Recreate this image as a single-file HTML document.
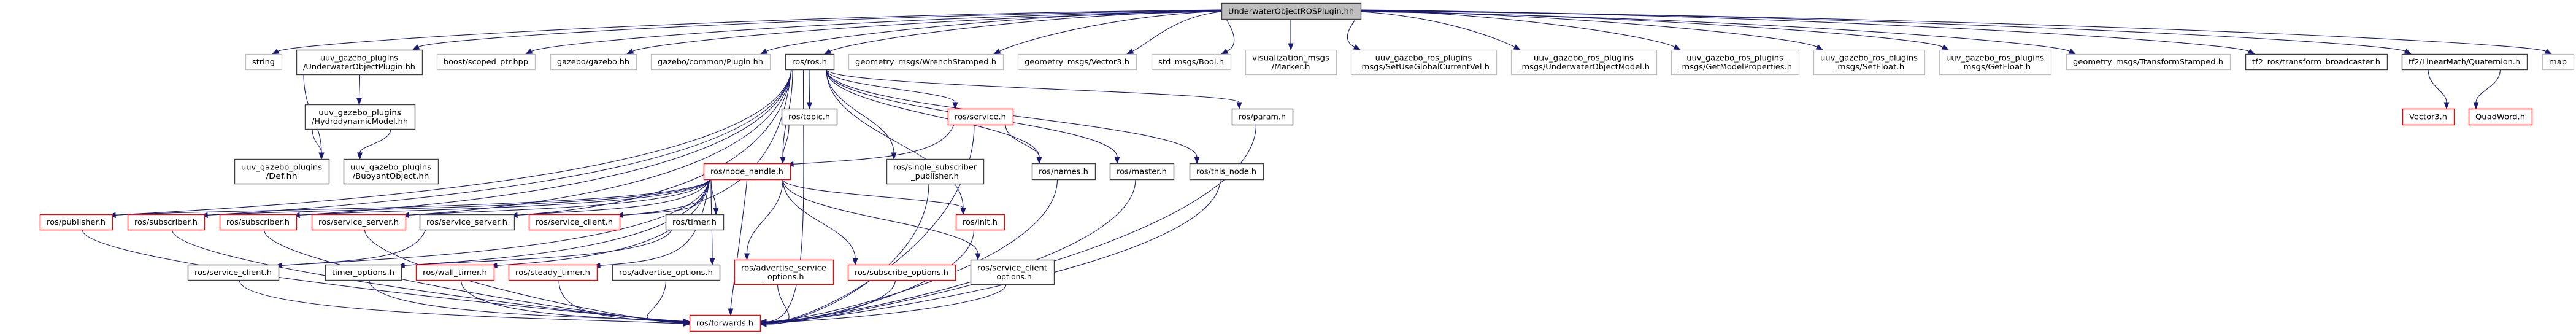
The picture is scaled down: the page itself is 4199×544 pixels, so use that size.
<!DOCTYPE html>
<html><head><meta charset="utf-8"><style>
html,body{margin:0;padding:0;background:#fff;width:4199px;height:544px;overflow:hidden}
svg text{font-family:"DejaVu Sans","Liberation Sans",sans-serif;font-size:12.5px;fill:#000;text-anchor:middle}
</style></head><body>
<svg id="g" xmlns="http://www.w3.org/2000/svg" width="4199" height="544" viewBox="0 0 4199 544">
<g id="edges" fill="none" stroke="#191970" stroke-width="1.1"></g>
<g id="heads" fill="#191970" stroke="#191970"></g>
<g id="nodes"></g>
</svg>
<script>
(function(){
var N={
root:[1991,2218,5,31,'root',['UnderwaterObjectROSPlugin.hh']],
string:[400,459,88,113,'g',['string']],
uop:[483,688,81,121,'b',['uuv_gazebo_plugins','/UnderwaterObjectPlugin.hh']],
boost:[712,872,88,113,'g',['boost/scoped_ptr.hpp']],
gazebo:[897,1037,88,113,'g',['gazebo/gazebo.hh']],
plugin:[1061,1255,88,113,'g',['gazebo/common/Plugin.hh']],
rosh:[1280,1359,88,113,'b',['ros/ros.h']],
wrench:[1383,1635,88,113,'g',['geometry_msgs/WrenchStamped.h']],
v3msg:[1659,1852,88,113,'g',['geometry_msgs/Vector3.h']],
bool:[1877,2006,88,113,'g',['std_msgs/Bool.h']],
marker:[2030,2178,81,121,'g',['visualization_msgs','/Marker.h']],
setuse:[2202,2439,81,121,'g',['uuv_gazebo_ros_plugins','_msgs/SetUseGlobalCurrentVel.h']],
uomodel:[2463,2700,81,121,'g',['uuv_gazebo_ros_plugins','_msgs/UnderwaterObjectModel.h']],
getmp:[2724,2932,81,121,'g',['uuv_gazebo_ros_plugins','_msgs/GetModelProperties.h']],
setfloat:[2956,3137,81,121,'g',['uuv_gazebo_ros_plugins','_msgs/SetFloat.h']],
getfloat:[3161,3343,81,121,'g',['uuv_gazebo_ros_plugins','_msgs/GetFloat.h']],
tfst:[3368,3635,88,113,'g',['geometry_msgs/TransformStamped.h']],
tfbr:[3660,3891,88,113,'b',['tf2_ros/transform_broadcaster.h']],
quat:[3915,4119,88,113,'b',['tf2/LinearMath/Quaternion.h']],
map:[4144,4195,88,113,'g',['map']],
topic:[1274,1364,177,203,'b',['ros/topic.h']],
service:[1545,1651,177,203,'r',['ros/service.h']],
param:[2008,2107,177,203,'b',['ros/param.h']],
v3:[3916,4000,177,203,'r',['Vector3.h']],
qw:[4024,4127,177,203,'r',['QuadWord.h']],
hydro:[497,676,170,210,'b',['uuv_gazebo_plugins','/HydrodynamicModel.hh']],
def:[382,536,259,299,'b',['uuv_gazebo_plugins','/Def.hh']],
buoy:[560,714,259,299,'b',['uuv_gazebo_plugins','/BuoyantObject.hh']],
nh:[1147,1288,266,292,'r',['ros/node_handle.h']],
ssp:[1445,1603,259,299,'b',['ros/single_subscriber','_publisher.h']],
names:[1682,1785,266,292,'b',['ros/names.h']],
master:[1809,1913,266,292,'b',['ros/master.h']],
thisnode:[1939,2059,266,292,'b',['ros/this_node.h']],
pub:[65,183,349,374,'r',['ros/publisher.h']],
sub1:[208,333,349,374,'r',['ros/subscriber.h']],
sub2:[358,483,349,374,'r',['ros/subscriber.h']],
ss1:[508,661,349,374,'r',['ros/service_server.h']],
ss2:[684,838,349,374,'b',['ros/service_server.h']],
sc1:[862,1010,349,374,'r',['ros/service_client.h']],
timer:[1085,1179,349,374,'b',['ros/timer.h']],
init:[1558,1637,349,374,'r',['ros/init.h']],
sc2:[306,454,431,456,'b',['ros/service_client.h']],
topt:[530,654,431,456,'b',['timer_options.h']],
wall:[678,805,431,456,'r',['ros/wall_timer.h']],
steady:[829,973,431,456,'r',['ros/steady_timer.h']],
advopt:[998,1173,431,456,'b',['ros/advertise_options.h']],
advsvc:[1197,1358,423,463,'r',['ros/advertise_service','_options.h']],
subopt:[1382,1557,431,456,'r',['ros/subscribe_options.h']],
scopt:[1582,1718,423,463,'b',['ros/service_client','_options.h']],
fwd:[1124,1239,513,539,'r',['ros/forwards.h']]
};
var ns='http://www.w3.org/2000/svg';
function el(t,a,p){var e=document.createElementNS(ns,t);for(var k in a)e.setAttribute(k,a[k]);p.appendChild(e);return e;}
function mid(n){return (n[0]+n[1])/2}
var G=document.getElementById('nodes');
for(var id in N){var n=N[id];var st={g:'#c0c0c0',b:'#404040',r:'#ff0000',root:'#404040'}[n[4]];
el('rect',{x:n[0]+.5,y:n[2]+.5,width:n[1]-n[0],height:n[3]-n[2],fill:n[4]=='root'?'#bfbfbf':'#fff',stroke:st,'stroke-width':n[4]=='g'?1.3:1.4},G);
var ccx=mid(n),ccy=(n[2]+n[3])/2,w=n[1]-n[0]-22;
if(n[5].length==1){var t=el('text',{x:ccx,y:ccy+4.5,textLength:w,lengthAdjust:'spacingAndGlyphs'},G);t.textContent=n[5][0];}
else{var a=n[5][0],b=n[5][1];var la=a.length>=b.length;
var t1=el('text',{x:ccx,y:ccy-2.5},G);t1.textContent=a;var t2=el('text',{x:ccx,y:ccy+12},G);t2.textContent=b;
var L=la?t1:t2;L.setAttribute('textLength',w);L.setAttribute('lengthAdjust','spacingAndGlyphs');
var S=la?t2:t1;var r=w/Math.max(a.length,b.length);S.setAttribute('textLength',r*Math.min(a.length,b.length));S.setAttribute('lengthAdjust','spacingAndGlyphs');}
}
var E=document.getElementById('edges'),H=document.getElementById('heads');
function head(x,y,px,py){var dx=x-px,dy=y-py,l=Math.sqrt(dx*dx+dy*dy)||1;dx/=l;dy/=l;var L=10,W=3.8;
var bx=x-dx*L,by=y-dy*L;el('polygon',{points:x+','+y+' '+(bx-dy*W)+','+(by+dx*W)+' '+(bx+dy*W)+','+(by-dx*W)},H);return [bx,by];}
function curve(x1,y1,c1x,c1y,c2x,c2y,x2,y2){var b=head(x2,y2,c2x,c2y);
el('path',{d:'M'+x1+','+y1+' C'+c1x+','+c1y+' '+c2x+','+c2y+' '+b[0]+','+b[1]},E);}
function edge(a,b,k){var s=N[a],t=N[b];k=k||0;
var tx=mid(t),sx=mid(s);
if(b=='fwd'){var y2=526+k;
 if(sx<1110){var x1=sx+(sx<1000?10:0);curve(x1,s[3],x1,s[3]+60,1000,y2-8,1124,y2);}
 else if(sx>1260){var x1=sx-10;curve(x1,s[3],x1,s[3]+(y2-s[3])*0.6,1320,y2,1239,y2);}
 else{curve(sx,s[3],sx,s[3]+20,1181+k*5,495,1181+k*5,513);}
 return;}
if(a=='root'){var y1=18+k;
 if(tx<1991){var x2=t[1]-15;curve(1991,y1,(1991+x2)/2,y1+8,x2+40,t[2]-20,x2,t[2]);}
 else if(tx>2218){var x2=t[0]+15;curve(2218,y1,(2218+x2)/2,y1+8,x2-40,t[2]-20,x2,t[2]);}
 else{curve(tx,31,tx,50,tx,70,tx,t[2]);}
 return;}
var x1=Math.min(Math.max(tx,s[0]+12),s[1]-12);
var x2=Math.min(Math.max(sx,t[0]+12),t[1]-12);
if(t[2]>s[3]+40 && t[1]<s[0]-60){x2=t[1]-5;var ty=t[2]+2;x1=s[0]+10;curve(x1,s[3],x1-20,s[3]+(ty-s[3])*0.8,x2+150,ty-10,x2,ty);return;}
var dy=t[2]-s[3];curve(x1,s[3],x1,s[3]+dy*0.45,x2,t[2]-dy*0.45,x2,t[2]);
}
var tops=['string','uop','boost','gazebo','plugin','rosh','wrench','v3msg','bool','marker','setuse','uomodel','getmp','setfloat','getfloat','tfst','tfbr','quat','map'];
tops.forEach(function(b,i){edge('root',b,(i%4)-2);});
[['uop','hydro'],['uop','def'],['hydro','def'],['hydro','buoy'],['quat','v3'],['quat','qw'],
['rosh','topic'],['rosh','service'],['rosh','param'],['rosh','nh'],['rosh','ssp'],['rosh','names'],['rosh','master'],['rosh','thisnode'],['rosh','init'],
['rosh','pub'],['rosh','sub1'],['rosh','sub2'],['rosh','ss1'],['rosh','ss2'],['rosh','sc1'],
['topic','nh'],['service','nh'],['service','names'],
['nh','pub'],['nh','sub1'],['nh','sub2'],['nh','ss1'],['nh','ss2'],['nh','sc1'],['nh','timer'],['nh','sc2'],['nh','topt'],['nh','wall'],['nh','steady'],['nh','advopt'],['nh','advsvc'],['nh','subopt'],['nh','scopt'],['nh','init'],
['timer','topt'],['ss2','sc2']
].forEach(function(e){edge(e[0],e[1]);});
['pub','sub1','sub2','ss1','sc2','topt','wall','steady','advopt','advsvc','subopt','scopt','init','service','param','names','master','thisnode','ssp','nh','rosh'].forEach(function(a,i){edge(a,'fwd',(i%5)-2);});
})();
</script>
</body></html>
